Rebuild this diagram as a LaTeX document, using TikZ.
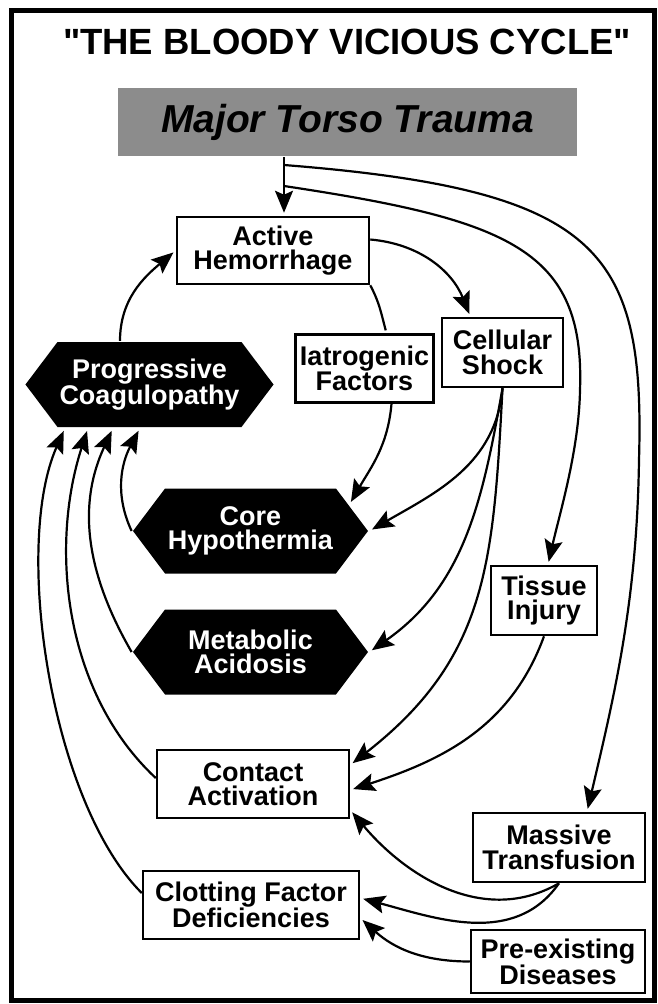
\documentclass[tikz,border=0pt]{standalone}
\usepackage{fontspec}
\setmainfont{Liberation Sans}
\newfontfamily\titlefont{Liberation Sans}
\usetikzlibrary{shapes.symbols,arrows.meta}

\begin{document}
\begin{tikzpicture}[x=1pt,y=-1pt,-{Stealth[length=22pt,width=18pt,inset=4pt]},shorten >=3pt,line width=2.2pt]
\tikzstyle{box} = [rectangle, draw, line width=2.5pt, fill=white, inner sep=2pt, align=center, font=\fontsize{27}{24.5}\selectfont\bfseries]
\tikzstyle{hexa} = [signal, signal to=east and west, signal pointer angle=106, fill=black, text=white, inner sep=2pt, align=center, minimum width=235pt, minimum height=85pt, font=\fontsize{27}{24.5}\selectfont\bfseries]
\useasboundingbox (0,0) rectangle (658,1004);
\draw[-,line width=5pt] (11.5,10) rectangle (654.5,1000);
\node[font=\fontsize{36.5}{38}\titlefont\bfseries, anchor=base] (title) at (347,54) {"THE BLOODY VICIOUS CYCLE"};
\node[box, draw=none, fill=black!45, minimum width=459pt, minimum height=68pt, font=\fontsize{39}{40}\selectfont\bfseries\itshape] (trauma) at (347.5,122) {Major Torso Trauma};
\node[box, minimum width=192pt, minimum height=67pt] (act) at (273,250.5) {Active\\Hemorrhage};
\node[box, minimum width=138pt, minimum height=68pt] (iat) at (364.5,368.5) {Iatrogenic\\Factors};
\node[box, minimum width=121pt, minimum height=69pt] (cell) at (502.5,352.5) {Cellular\\Shock};
\node[hexa] (prog) at (149.5,384.5) {Progressive\\Coagulopathy};
\node[hexa] (core) at (250.5,531) {Core\\Hypothermia};
\node[hexa] (meta) at (250.5,652) {Metabolic\\Acidosis};
\node[box, minimum width=106pt, minimum height=69pt] (tiss) at (544,600.5) {Tissue\\Injury};
\node[box, minimum width=192pt, minimum height=68pt] (cont) at (253,784) {Contact\\Activation};
\node[box, minimum width=216pt, minimum height=68pt] (clot) at (251,905) {Clotting Factor\\Deficiencies};
\node[box, minimum width=172pt, minimum height=69pt] (mass) at (559,847.5) {Massive\\Transfusion};
\node[box, minimum width=174pt, minimum height=63pt] (pre) at (558,961.5) {Pre-existing\\Diseases};
% trauma stem and its two long branches
\coordinate (br1) at (284,165);
\coordinate (br2) at (284,186);
\draw ([xshift=-63.5pt]trauma.south) -- ([xshift=11pt]act.north);
\draw (br1) .. controls (600,190) and (645,250) .. (639,460) .. controls (637,600) and (615,693) .. ([xshift=28pt]mass.north);
\draw (br2) .. controls (510,220) and (585,250) .. (580,390) .. controls (579,450) and (560,512) .. ([xshift=4pt]tiss.north);
\path (act.south east) edge[-, out=-62, in=105] ([xshift=22pt]iat.north)
      ([xshift=27pt]iat.south) edge[out=-95, in=60] (core.15)
      ([yshift=11pt]act.east) edge[out=-5, in=112] ([xshift=-32pt]cell.north)
      (cell.south) edge[out=-95, in=30] (core.east)
      (cell.south) edge[out=-100, in=35] (meta.east)
      (cell.south) edge[out=-93, in=38, looseness=1.1] ([yshift=19pt]cont.east)
      (tiss.south) edge[out=-110, in=18] ([yshift=-6pt]cont.east)
      (mass.south) edge[out=-150, in=-50] ([yshift=-26pt]cont.east)
      (mass.south) edge[out=-125, in=-15] ([yshift=7pt]clot.east)
      (pre.west) edge[out=180, in=-42] ([yshift=-13pt]clot.east);
% feedback into the coagulopathy
\path ([xshift=-29.5pt]prog.north) edge[out=90, in=220] (act.west)
      (core.west) edge[out=115, in=-118] ([xshift=-9.5pt]prog.south)
      (meta.west) edge[out=120, in=-115] ([xshift=-36.5pt]prog.south)
      ([yshift=6pt]cont.west) edge[out=137, in=-108, looseness=0.9] ([xshift=-61.5pt]prog.south)
      ([yshift=12pt]clot.west) edge[out=135, in=-114, looseness=0.7] ([xshift=-84.5pt]prog.south);
\end{tikzpicture}
\end{document}
